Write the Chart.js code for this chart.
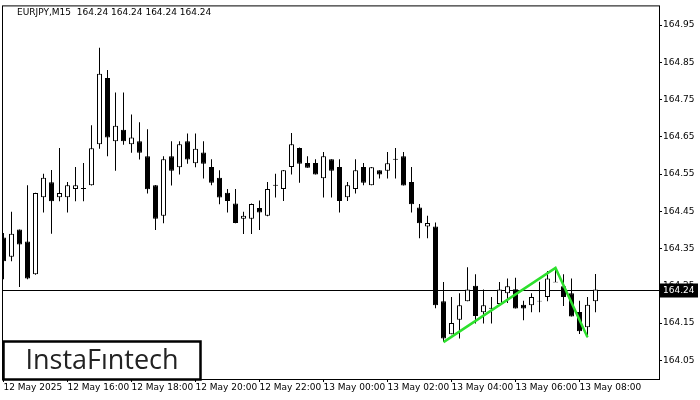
<!DOCTYPE html>
<html>
<head>
<meta charset="utf-8">
<script src="https://cdn.jsdelivr.net/npm/chart.js@4.4.1/dist/chart.umd.min.js"></script>
<style>
  html, body { margin: 0; padding: 0; background: #fff; }
</style>
</head>
<body>
<canvas id="myChart" width="700" height="400"></canvas>
<script>
// EURJPY M15 candles, 12 May 14:00 .. 13 May 08:30
var opens = [164.380, 164.328, 164.401, 164.369, 164.281, 164.488, 164.528, 164.488, 164.488, 164.510,
  164.511, 164.520, 164.630, 164.808, 164.638, 164.669, 164.630, 164.638, 164.598, 164.520,
  164.438, 164.598, 164.568, 164.638, 164.579, 164.608, 164.569, 164.540, 164.500, 164.471,
  164.430, 164.430, 164.459, 164.438, 164.520, 164.510, 164.569, 164.620, 164.580, 164.580,
  164.539, 164.590, 164.569, 164.488, 164.510, 164.569, 164.520, 164.560, 164.559, 164.590,
  164.598, 164.529, 164.460, 164.409, 164.409, 164.209, 164.120, 164.159, 164.209, 164.250,
  164.179, 164.190, 164.201, 164.230, 164.241, 164.199, 164.198, 164.209, 164.220, 164.260,
  164.249, 164.230, 164.180, 164.139, 164.209];
var highs = [164.392, 164.449, 164.401, 164.520, 164.500, 164.551, 164.561, 164.620, 164.529, 164.569,
  164.580, 164.681, 164.889, 164.829, 164.769, 164.769, 164.710, 164.689, 164.670, 164.521,
  164.598, 164.638, 164.638, 164.659, 164.659, 164.638, 164.590, 164.560, 164.510, 164.510,
  164.449, 164.471, 164.479, 164.529, 164.551, 164.561, 164.660, 164.621, 164.598, 164.590,
  164.609, 164.590, 164.590, 164.529, 164.590, 164.580, 164.569, 164.560, 164.609, 164.620,
  164.609, 164.569, 164.470, 164.438, 164.420, 164.260, 164.220, 164.230, 164.300, 164.281,
  164.240, 164.220, 164.260, 164.270, 164.272, 164.210, 164.230, 164.261, 164.290, 164.298,
  164.281, 164.270, 164.210, 164.220, 164.282];
var lows = [164.268, 164.316, 164.247, 164.268, 164.280, 164.447, 164.390, 164.477, 164.447, 164.477,
  164.477, 164.519, 164.618, 164.598, 164.559, 164.629, 164.607, 164.589, 164.498, 164.400,
  164.418, 164.519, 164.549, 164.578, 164.568, 164.538, 164.520, 164.469, 164.447, 164.418,
  164.389, 164.389, 164.400, 164.437, 164.487, 164.478, 164.549, 164.527, 164.567, 164.549,
  164.487, 164.487, 164.447, 164.478, 164.498, 164.520, 164.520, 164.538, 164.538, 164.538,
  164.519, 164.447, 164.378, 164.378, 164.190, 164.099, 164.120, 164.109, 164.209, 164.149,
  164.149, 164.149, 164.196, 164.204, 164.189, 164.158, 164.179, 164.179, 164.209, 164.260,
  164.196, 164.168, 164.121, 164.112, 164.179];
var closes = [164.316, 164.390, 164.361, 164.270, 164.499, 164.540, 164.477, 164.499, 164.520, 164.520,
  164.511, 164.619, 164.819, 164.648, 164.680, 164.638, 164.648, 164.607, 164.509, 164.430,
  164.590, 164.559, 164.630, 164.589, 164.618, 164.578, 164.527, 164.487, 164.478, 164.419,
  164.438, 164.470, 164.447, 164.510, 164.520, 164.560, 164.630, 164.578, 164.567, 164.549,
  164.598, 164.559, 164.478, 164.520, 164.560, 164.527, 164.568, 164.549, 164.579, 164.590,
  164.519, 164.469, 164.418, 164.419, 164.198, 164.109, 164.150, 164.198, 164.240, 164.169,
  164.198, 164.190, 164.240, 164.249, 164.189, 164.189, 164.220, 164.209, 164.270, 164.260,
  164.220, 164.168, 164.128, 164.199, 164.240];

var xTickIdx = [0, 8, 16, 24, 32, 40, 48, 56, 64, 72];
var xTickLabels = ['12 May 2025', '12 May 16:00', '12 May 18:00', '12 May 20:00', '12 May 22:00',
  '13 May 00:00', '13 May 02:00', '13 May 04:00', '13 May 06:00', '13 May 08:00'];
var yTicks = [164.05, 164.15, 164.25, 164.35, 164.45, 164.55, 164.65, 164.75, 164.85, 164.95];

// double top pattern line
var patternIdx = [55, 69, 73];
var patternPrice = [164.099, 164.298, 164.112];

var symbol = 'EURJPY,M15';
var lastPrice = 164.24;

var wickData = [], bodyData = [], bodyColors = [], patternData = [];
for (var i = 0; i < opens.length; i++) {
  wickData.push({ x: i, y: [lows[i], highs[i]] });
  var lo = Math.min(opens[i], closes[i]), hi = Math.max(opens[i], closes[i]);
  if (hi - lo < 0.002) { var m = (hi + lo) / 2; lo = m - 0.0013; hi = m + 0.0013; }
  bodyData.push({ x: i, y: [lo, hi] });
  bodyColors.push(closes[i] >= opens[i] ? '#ffffff' : '#000000');
}
for (var j = 0; j < patternIdx.length; j++) {
  patternData.push({ x: patternIdx[j], y: patternPrice[j] });
}

var FONT = 'DejaVu Sans';

var mtPlugin = {
  id: 'mt',
  beforeDatasetsDraw: function (chart) {
    var ctx = chart.ctx, a = chart.chartArea;
    var y = Math.round(chart.scales.y.getPixelForValue(lastPrice)) + 0.5;
    ctx.save();
    ctx.strokeStyle = '#000';
    ctx.lineWidth = 1;
    ctx.beginPath();
    ctx.moveTo(a.left, y);
    ctx.lineTo(a.right, y);
    ctx.stroke();
    ctx.restore();
  },
  afterDraw: function (chart) {
    var ctx = chart.ctx, a = chart.chartArea;
    ctx.save();
    // frame
    ctx.strokeStyle = '#000';
    ctx.lineWidth = 1;
    ctx.strokeRect(a.left - 0.5, a.top - 0.5, a.right - a.left + 1, a.bottom - a.top + 1);

    // title
    ctx.fillStyle = '#000';
    ctx.font = '9px "' + FONT + '"';
    ctx.textBaseline = 'middle';
    ctx.textAlign = 'left';
    var p = lastPrice.toFixed(2);
    ctx.fillText(symbol + '  ' + p + ' ' + p + ' ' + p + ' ' + p, 17, 13);

    // last price tag
    var y = Math.round(chart.scales.y.getPixelForValue(lastPrice)) + 0.5;
    ctx.fillStyle = '#000';
    ctx.fillRect(a.right + 1, y - 7, 38, 14);
    ctx.fillStyle = '#fff';
    ctx.fillText(p, a.right + 4, y);

    // logo
    ctx.fillStyle = '#fff';
    ctx.fillRect(a.left, 341, 198, a.bottom - 341);
    ctx.strokeStyle = '#000';
    ctx.lineWidth = 2.5;
    ctx.strokeRect(a.left + 0.5, 341.5, 197, a.bottom - 341);
    ctx.fillStyle = '#222';
    ctx.font = '27px "Open Sans"';
    ctx.textAlign = 'center';
    ctx.fillText('InstaF\u0131ntech', a.left + 99, 361, 160);
    ctx.restore();
  }
};

new Chart(document.getElementById('myChart'), {
  type: 'bar',
  data: {
    datasets: [
      {
        type: 'line',
        data: patternData,
        borderColor: '#2de02d',
        borderWidth: 2.5,
        pointRadius: 0,
        fill: false,
        order: 0
      },
      {
        data: bodyData,
        backgroundColor: bodyColors,
        borderColor: '#000',
        borderWidth: 1,
        borderSkipped: false,
        barThickness: 5,
        grouped: false,
        inflateAmount: 0,
        order: 1
      },
      {
        data: wickData,
        backgroundColor: '#000',
        borderWidth: 0,
        barThickness: 1,
        grouped: false,
        inflateAmount: 0,
        order: 2
      }
    ]
  },
  options: {
    responsive: false,
    animation: false,
    layout: { padding: { left: 3, top: 3, right: 0, bottom: 0 } },
    plugins: { legend: { display: false }, tooltip: { enabled: false } },
    scales: {
      x: {
        type: 'linear',
        offset: false,
        min: -0.0625,
        max: 81.9375,
        border: { display: false },
        grid: { offset: false, drawOnChartArea: false, color: '#000', tickLength: 3 },
        afterBuildTicks: function (s) { s.ticks = xTickIdx.map(function (v) { return { value: v }; }); },
        afterFit: function (s) { s.height = 21; },
        ticks: {
          autoSkip: false,
          maxRotation: 0,
          align: 'start',
          padding: 0,
          color: '#000',
          font: { family: FONT, size: 9 },
          callback: function (v, idx) { return xTickLabels[idx]; }
        }
      },
      y: {
        position: 'right',
        min: 164.0,
        max: 165.0,
        border: { display: false },
        grid: { drawOnChartArea: false, color: '#000', tickLength: 3 },
        afterBuildTicks: function (s) { s.ticks = yTicks.map(function (v) { return { value: v }; }); },
        afterFit: function (s) { s.width = 41; },
        ticks: {
          padding: 1,
          color: '#000',
          font: { family: FONT, size: 9 },
          callback: function (v) { return v.toFixed(2); }
        }
      }
    }
  },
  plugins: [mtPlugin]
});
</script>
</body>
</html>
